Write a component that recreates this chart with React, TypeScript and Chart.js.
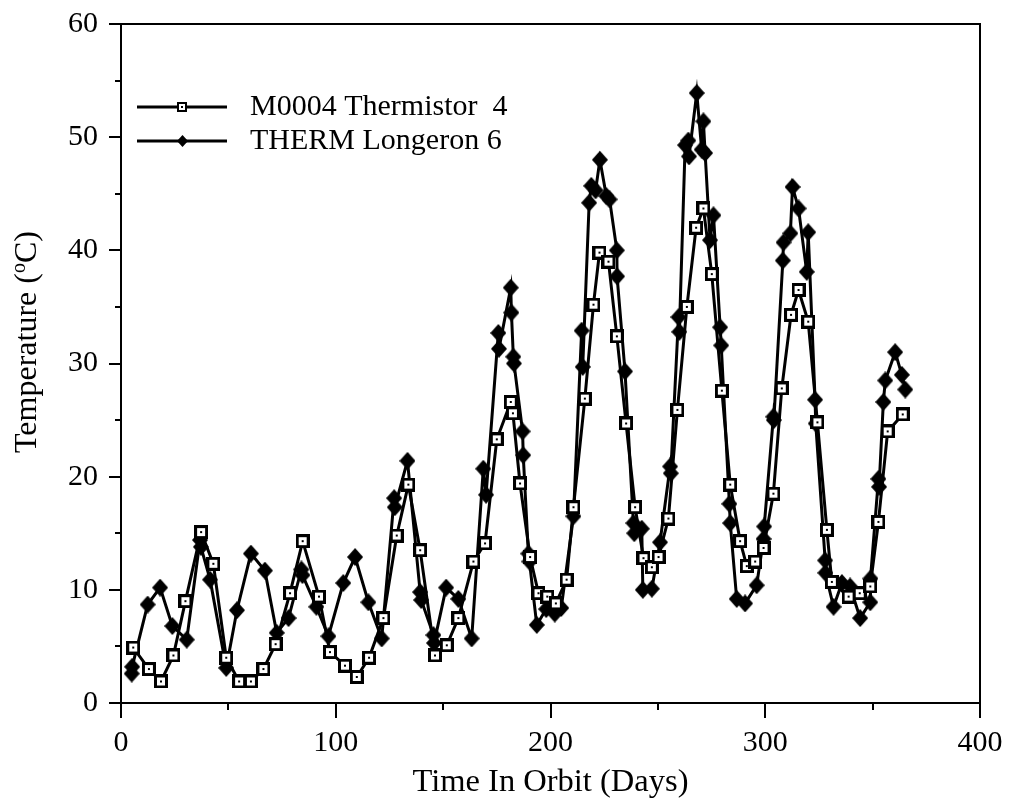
import React, { useEffect, useRef } from 'react';
import { Chart, registerables } from 'chart.js';

Chart.register(...registerables);

const seriesLabels = ['M0004 Thermistor  4', 'THERM Longeron 6'];

const m0004Days = [
  5.7, 13, 18.6, 24.4, 30, 37.3, 43, 49, 55, 60.5, 66.3, 72, 78.7, 84.6, 92.2, 97.3,
  104.3, 109.8, 115.5, 122.2, 128.4, 133.8, 139.3, 146.2, 151.7, 157.1, 164.1, 169.5,
  175, 181.5, 182.5, 185.8, 190.5, 194.4, 198.5, 202.5, 207.5, 210.7, 216, 220, 222.8,
  227, 230.9, 235.2, 239.4, 243.3, 247.2, 250.3, 254.9, 259.1, 263.5, 267.8, 271.2,
  275.1, 279.8, 283.7, 288.3, 291.4, 295.3, 299.2, 303.8, 307.7, 312, 315.5, 320,
  324.3, 328.7, 331, 338.8, 344, 348.9, 352.7, 357, 364,
];
const m0004Temps = [
  4.9, 3.0, 1.9, 4.2, 9.0, 15.1, 12.3, 4.0, 1.9, 1.9, 3.0, 5.2, 9.7, 14.3, 9.4, 4.5,
  3.3, 2.3, 4.0, 7.5, 14.8, 19.3, 13.5, 4.2, 5.1, 7.5, 12.5, 14.1,
  23.3, 26.6, 25.6, 19.4, 12.9, 9.7, 9.4, 8.8, 10.9, 17.3, 26.9, 35.2, 39.8,
  39.0, 32.4, 24.7, 17.3, 12.8, 12.0, 12.9, 16.3, 25.9, 35.0, 42.0, 43.7,
  37.9, 27.6, 19.3, 14.3, 12.1, 12.5, 13.7, 18.5, 27.8, 34.3, 36.5, 33.7,
  24.8, 15.3, 10.7, 9.4, 9.7, 10.3, 16.0, 24.0, 25.5,
];

const thermDays = [
  5, 5.2, 12.4, 18.2, 23.9, 30.6, 36.8, 37.2, 41.5, 49, 54, 60.5, 67, 72.5, 78, 84,
  84.5, 91, 96.6, 103.5, 109, 115.2, 121.4, 127.2, 127.5, 133.4, 139.3, 139.8, 145.5,
  145.8, 151.4, 157.1, 163.3, 168.7, 170, 175.7, 176, 181.5, 181.8, 182.7, 183, 187,
  187.3, 189.7, 190.2, 193.6, 198, 202, 205, 210.7, 214.5, 215, 218, 219, 221, 223,
  226, 227.5, 230.9, 231, 234.7, 238.6, 239, 242.5, 243, 247.2, 251, 255.7, 256,
  259.6, 260, 262.7, 264.2, 264.5, 268.1, 270.4, 271.2, 272, 274.3, 275.9, 279,
  279.5, 283.3, 283.7, 286.7, 290.6, 296, 299.2, 299.5, 303.8, 304, 308.2, 308.5,
  311.7, 312.7, 315.5, 319.3, 320, 323.2, 323.5, 327.9, 328, 331.8, 335.7, 339.5,
  344.2, 348.9, 349, 352.7, 353, 355, 355.9, 360.5, 363.6, 365.2,
];
const thermTemps = [
  2.6, 3.2, 8.7, 10.2, 6.8, 5.6, 14.4, 13.8, 10.9, 3.1, 8.2, 13.2, 11.7, 6.2, 7.5, 11.8,
  11.3, 8.5, 5.9, 10.6, 12.9, 8.9, 5.7, 18.1, 17.3, 21.4, 9.8, 9.1, 6.0,
  5.3, 10.2, 9.2, 5.7, 20.7, 18.4, 32.7, 31.3, 36.7, 34.5, 30.6, 30.0, 24.0,
  21.9, 13.2, 12.5, 6.9, 8.3, 7.9, 8.4, 16.5, 32.9, 29.7, 44.2, 45.7, 45.3, 48.0,
  44.8, 44.5, 40.0, 37.7, 29.3, 15.9, 15.0, 15.4, 10.0, 10.1, 14.2, 20.9, 20.3,
  34.1, 32.8, 49.3, 49.7, 48.3, 53.9, 48.9, 51.4, 48.6, 40.9, 43.1, 33.2,
  31.6, 17.6, 15.9, 9.2, 8.8, 10.4, 14.5, 15.6, 25.3, 25.0, 39.1, 40.7,
  41.5, 45.6, 43.7, 38.1, 41.6, 26.8, 24.7, 12.6, 11.5, 8.5, 10.6, 10.3,
  7.5, 8.9, 11.0, 19.8, 19.1, 26.6, 28.5, 31.0, 29.0, 27.7,
];

const xMajorTicks = [0, 100, 200, 300, 400];
const xMinorTicks = [50, 150, 250, 350];
const yMajorTicks = [0, 10, 20, 30, 40, 50, 60];
const yMinorTicks = [5, 15, 25, 35, 45, 55];

const FONT = '"Liberation Serif", "Times New Roman", Times, serif';

function makeSquare(size: number, lw: number): HTMLCanvasElement {
  const c = document.createElement('canvas');
  c.width = size;
  c.height = size;
  const ctx = c.getContext('2d')!;
  ctx.fillStyle = '#000';
  ctx.fillRect(0, 0, size, size);
  ctx.fillStyle = '#fff';
  ctx.fillRect(lw, lw, size - 2 * lw, size - 2 * lw);
  ctx.fillStyle = '#000';
  const d = 2;
  ctx.fillRect(Math.round(size / 2 - d / 2), Math.round(size / 2 - d / 2), d, d);
  return c;
}

function makeDiamond(w: number, h: number): HTMLCanvasElement {
  const c = document.createElement('canvas');
  c.width = w;
  c.height = h;
  const ctx = c.getContext('2d')!;
  ctx.fillStyle = '#000';
  ctx.beginPath();
  ctx.moveTo(w / 2, 0);
  ctx.lineTo(w, h / 2);
  ctx.lineTo(w / 2, h);
  ctx.lineTo(0, h / 2);
  ctx.closePath();
  ctx.fill();
  return c;
}

export default function App() {
  const ref = useRef<HTMLCanvasElement>(null);

  useEffect(() => {
    const canvas = ref.current!;
    const square = makeSquare(14, 3);
    const diamond = makeDiamond(16, 18);
    const smallSquare = makeSquare(10, 2);
    const smallDiamond = makeDiamond(11, 12);

    const decor = {
      id: 'decor',
      afterDraw(chart: any) {
        const ctx = chart.ctx as CanvasRenderingContext2D;
        const { left, right, top, bottom } = chart.chartArea;
        const xs = chart.scales.x;
        const ys = chart.scales.y;
        ctx.save();
        ctx.strokeStyle = '#000';
        ctx.lineWidth = 2;
        ctx.beginPath();
        ctx.moveTo(left, top);
        ctx.lineTo(right, top);
        ctx.lineTo(right, bottom);
        ctx.stroke();
        ctx.beginPath();
        for (const v of xMajorTicks) {
          const p = Math.round(xs.getPixelForValue(v));
          ctx.moveTo(p, bottom);
          ctx.lineTo(p, bottom + 15);
        }
        for (const v of xMinorTicks) {
          const p = Math.round(xs.getPixelForValue(v));
          ctx.moveTo(p, bottom);
          ctx.lineTo(p, bottom + 7);
        }
        for (const v of yMajorTicks) {
          const p = Math.round(ys.getPixelForValue(v));
          ctx.moveTo(left, p);
          ctx.lineTo(left - 12, p);
        }
        for (const v of yMinorTicks) {
          const p = Math.round(ys.getPixelForValue(v));
          ctx.moveTo(left, p);
          ctx.lineTo(left - 6, p);
        }
        ctx.stroke();

        // legend
        const rows = [
          { y: 107, img: smallSquare, label: seriesLabels[0] },
          { y: 141, img: smallDiamond, label: seriesLabels[1] },
        ];
        ctx.lineWidth = 3;
        ctx.font = `30px ${FONT}`;
        ctx.fillStyle = '#000';
        ctx.textBaseline = 'alphabetic';
        ctx.textAlign = 'left';
        for (const r of rows) {
          ctx.beginPath();
          ctx.moveTo(137, r.y);
          ctx.lineTo(227, r.y);
          ctx.stroke();
          ctx.drawImage(r.img, Math.round(182 - r.img.width / 2), Math.round(r.y - r.img.height / 2));
          ctx.fillText(r.label, 250, r.y + 8);
        }

        // y-axis title with superscript o
        ctx.translate(36, 342);
        ctx.rotate(-Math.PI / 2);
        const main1 = 'Temperature (';
        const sup = 'o';
        const main2 = 'C)';
        ctx.font = `32px ${FONT}`;
        const w1 = ctx.measureText(main1).width;
        const w3 = ctx.measureText(main2).width;
        ctx.font = `20px ${FONT}`;
        const w2 = ctx.measureText(sup).width;
        const total = w1 + w2 + w3;
        let x = -total / 2;
        ctx.font = `32px ${FONT}`;
        ctx.fillText(main1, x, 0);
        x += w1;
        ctx.font = `20px ${FONT}`;
        ctx.fillText(sup, x, -11);
        x += w2;
        ctx.font = `32px ${FONT}`;
        ctx.fillText(main2, x, 0);
        ctx.restore();
      },
    };

    const chart = new Chart(canvas, {
      type: 'line',
      data: {
        datasets: [
          {
            label: seriesLabels[0],
            data: m0004Days.map((d, i) => ({ x: d, y: m0004Temps[i] })),
            borderColor: '#000',
            borderWidth: 3,
            pointStyle: square as any,
            pointRadius: 7,
            pointHoverRadius: 7,
            tension: 0,
          },
          {
            label: seriesLabels[1],
            data: thermDays.map((d, i) => ({ x: d, y: thermTemps[i] })),
            borderColor: '#000',
            borderWidth: 3,
            pointStyle: diamond as any,
            pointRadius: 8,
            pointHoverRadius: 8,
            tension: 0,
          },
        ],
      },
      options: {
        animation: false,
        responsive: false,
        devicePixelRatio: 1,
        events: [],
        layout: { padding: { top: 24, right: 30, bottom: 0, left: 0 } },
        plugins: {
          legend: { display: false },
          tooltip: { enabled: false },
          title: { display: false },
        },
        scales: {
          x: {
            type: 'linear',
            min: 0,
            max: 400,
            afterFit: (s: any) => {
              s.height = 105;
              s.paddingLeft = 0;
              s.paddingRight = 0;
            },
            afterBuildTicks: (s: any) => {
              s.ticks = xMajorTicks.map((v) => ({ value: v }));
            },
            ticks: {
              color: '#000',
              font: { family: FONT, size: 30 },
              padding: 22,
              maxRotation: 0,
            },
            grid: { display: true, drawOnChartArea: false, drawTicks: false },
            border: { display: true, color: '#000', width: 2 },
            title: {
              display: true,
              text: 'Time In Orbit (Days)',
              color: '#000',
              font: { family: FONT, size: 32.5 },
              padding: { top: 0, bottom: 6 },
            },
          },
          y: {
            type: 'linear',
            min: 0,
            max: 60,
            afterFit: (s: any) => {
              s.width = 121;
              s.paddingTop = 0;
              s.paddingBottom = 0;
            },
            afterBuildTicks: (s: any) => {
              s.ticks = yMajorTicks.map((v) => ({ value: v }));
            },
            ticks: {
              color: '#000',
              font: { family: FONT, size: 30 },
              padding: 23,
            },
            grid: { display: true, drawOnChartArea: false, drawTicks: false },
            border: { display: true, color: '#000', width: 2 },
          },
        },
      },
      plugins: [decor],
    });
    return () => chart.destroy();
  }, []);

  return (
    <div style={{ position: 'absolute', left: 0, top: 0, width: 1010, height: 808, background: '#fff' }}>
      <canvas ref={ref} width={1010} height={808} style={{ width: 1010, height: 808, display: 'block' }} />
    </div>
  );
}
